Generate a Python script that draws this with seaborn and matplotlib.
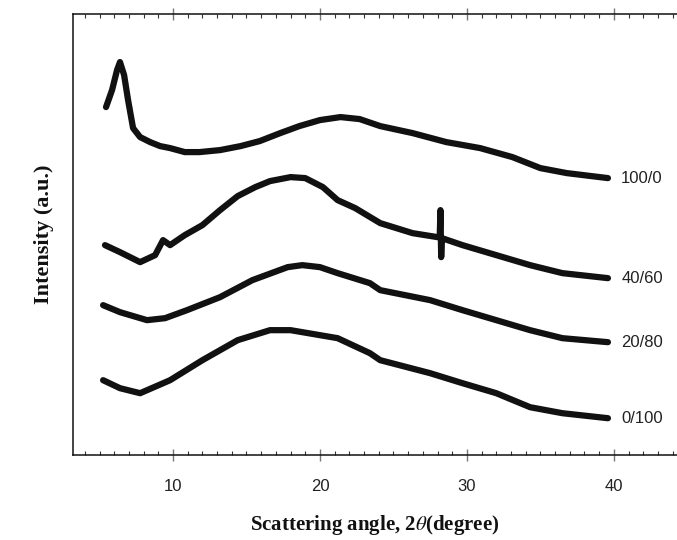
import pandas as pd
import seaborn as sns
import matplotlib.pyplot as plt
from matplotlib.ticker import MultipleLocator

# XRD patterns (angle in degrees, intensity in a.u.)
samples = ['100/0', '40/60', '20/80', '0/100']

angle_100_0 = [5.44, 5.85, 6.19, 6.39, 6.67, 6.94, 7.28, 7.76, 8.44, 9.12, 9.8, 10.8, 11.8,
               13.2, 14.6, 15.9, 17.3, 18.6, 20.0, 21.4, 22.7, 24.1, 26.3, 28.6, 30.9,
               33.1, 35.0, 36.8, 39.6]
inten_100_0 = [348, 365, 385, 393, 380, 355, 327, 318, 313, 309, 307, 303, 303,
               305, 309, 314, 322, 329, 335, 338, 336, 329, 322, 313, 307,
               298, 287, 282, 277]

angle_40_60 = [5.37, 6.39, 7.76, 8.78, 9.32, 9.8, 10.8, 12.0, 13.2, 14.4, 15.6, 16.6, 18.0,
               19.0, 20.2, 21.2, 22.4, 24.1, 26.3, 28.0, 28.15, 28.2, 28.25, 28.3, 29.7,
               32.0, 34.3, 36.5, 39.6]
inten_40_60 = [210, 203, 193, 200, 215, 210, 220, 230, 245, 259, 268, 274, 278,
               277, 268, 255, 247, 232, 222, 218, 218, 245, 198, 217, 210,
               200, 190, 182, 177]

angle_20_80 = [5.24, 6.39, 8.23, 9.46, 10.95, 13.2, 15.4, 17.8, 18.8, 20.0, 21.2, 23.4,
               24.1, 27.5, 29.7, 32.0, 34.3, 36.5, 39.6]
inten_20_80 = [150, 143, 135, 137, 145, 158, 175, 188, 190, 188, 182, 172,
               165, 155, 145, 135, 125, 117, 113]

angle_0_100 = [5.24, 6.39, 7.76, 9.8, 12.0, 14.4, 16.6, 18.0, 18.8, 21.2, 23.4, 24.1,
               27.5, 29.7, 32.0, 34.3, 36.5, 39.6]
inten_0_100 = [75, 67, 62, 75, 95, 115, 125, 125, 123, 117, 102, 95,
               82, 72, 62, 48, 42, 37]

x_ticks = [10, 20, 30, 40]

angles = [angle_100_0, angle_40_60, angle_20_80, angle_0_100]
intens = [inten_100_0, inten_40_60, inten_20_80, inten_0_100]
df = pd.concat([pd.DataFrame({'angle': a, 'intensity': i, 'sample': s})
                for a, i, s in zip(angles, intens, samples)], ignore_index=True)

sns.set_theme(style='white')
plt.rcParams['font.family'] = ['Liberation Sans', 'DejaVu Sans']
plt.rcParams['mathtext.fontset'] = 'stix'

fig = plt.figure(figsize=(6.77, 5.40), dpi=100)
ax = fig.add_axes([0.108, 0.157, 0.892, 0.817])

sns.lineplot(data=df, x='angle', y='intensity', hue='sample', estimator=None, sort=False,
             palette=['#111111'] * 4, linewidth=4.5, legend=False, ax=ax)

# sample labels at the right end of each curve
for a, i, s in zip(angles, intens, samples):
    ax.text(40.5, i[-1], s, fontsize=12, color='#222222', ha='left', va='center')

ax.set_xlim(3.2, 44.3)
ax.set_ylim(0, 441)
ax.set_yticks([])
ax.set_xticks(x_ticks)
ax.xaxis.set_minor_locator(MultipleLocator(1))
ax.xaxis.set_ticks_position('both')
ax.tick_params(axis='x', which='major', direction='inout', length=8, width=1,
               color='#777777', labelsize=12, pad=13, labelcolor='#222222')
ax.tick_params(axis='x', which='minor', direction='in', length=3, width=0.8,
               color='#333333', top=True, bottom=True)
ax.tick_params(axis='x', top=True, labeltop=False)

for side in ['left', 'bottom', 'top']:
    ax.spines[side].set_color('#111111')
    ax.spines[side].set_linewidth(1.1)
ax.spines['right'].set_visible(False)

ax.set_xlabel('Scattering angle, 2$\\theta$(degree)', fontsize=15, fontweight='bold',
              family='Liberation Serif', labelpad=14, color='#111111')
ax.set_ylabel('Intensity (a.u.)', fontsize=16, fontweight='bold',
              family='Liberation Serif', labelpad=14, color='#111111')

fig.savefig('out.png', dpi=100)
